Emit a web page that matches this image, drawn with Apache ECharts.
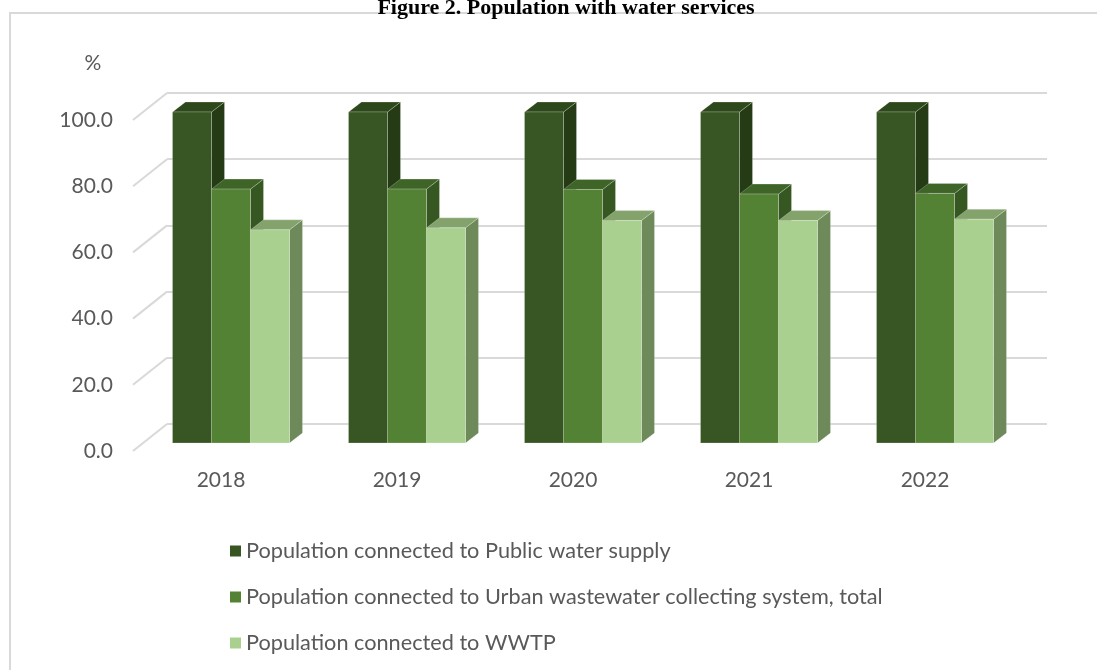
<!DOCTYPE html>
<html>
<head>
<meta charset="utf-8">
<script src="https://cdn.jsdelivr.net/npm/echarts@6/dist/echarts.min.js"></script>
<style>
  html, body { margin: 0; padding: 0; background: #ffffff; }
  #chart { width: 1097px; height: 670px; }
</style>
</head>
<body>
<div id="chart"></div>
<script>
// Population with water services, % of total population
const years = ['2018', '2019', '2020', '2021', '2022'];
const publicWaterSupply = [100.0, 100.0, 100.0, 100.0, 100.0];
const urbanWastewater = [76.7, 76.7, 76.6, 75.2, 75.4];
const wwtp = [64.4, 65.0, 67.2, 67.2, 67.6];
const yTickValues = [0, 20, 40, 60, 80, 100];

const seriesNames = [
  'Population connected to Public water supply',
  'Population connected to Urban wastewater collecting system, total',
  'Population connected to WWTP'
];

// Face shades for each bar series: front, top, side
const shades = [
  { front: '#375623', top: '#2d491c', side: '#243b16' },
  { front: '#548235', top: '#3f6428', side: '#365722' },
  { front: '#a9d08e', top: '#84a36c', side: '#6e8a5b' }
];

// Oblique projection: front edge of floor -> back wall, and bar slab depth
const WALL_DX = 34, WALL_DY = -27;
const BAR_FRONT_DX = 10, BAR_FRONT_DY = -8;
const BAR_DEPTH_DX = 13, BAR_DEPTH_DY = -10;
const BAR_FRAC = 39 / 176;
const TEXT = '#595959';
const FONT = 'Lato';

function barRenderer(idx) {
  const c = shades[idx];
  return function (params, api) {
    const cat = api.value(0);
    const v = api.value(1);
    const base = api.coord([cat, 0]);
    const top = api.coord([cat, v]);
    const catW = api.size([1, 0])[0];
    const barW = catW * BAR_FRAC;
    const x0 = base[0] - 1.5 * barW + idx * barW + BAR_FRONT_DX;
    const x1 = x0 + barW;
    const yb = base[1] + BAR_FRONT_DY;
    const yt = top[1] + BAR_FRONT_DY;
    const dx = BAR_DEPTH_DX, dy = BAR_DEPTH_DY;
    const edge = 'rgba(255,255,255,0.22)';
    return {
      type: 'group',
      children: [
        {
          type: 'polygon',
          shape: { points: [[x1, yt], [x1 + dx, yt + dy], [x1 + dx, yb + dy], [x1, yb]] },
          style: { fill: c.side, stroke: edge, lineWidth: 1 }
        },
        {
          type: 'polygon',
          shape: { points: [[x0, yt], [x1, yt], [x1 + dx, yt + dy], [x0 + dx, yt + dy]] },
          style: { fill: c.top, stroke: edge, lineWidth: 1 }
        },
        {
          type: 'rect',
          shape: { x: x0, y: yt, width: barW, height: yb - yt },
          style: { fill: c.front, stroke: edge, lineWidth: 1 }
        }
      ]
    };
  };
}

function sideWallRenderer(params, api) {
  const v = api.value(0);
  const p = api.coord([0, v]);
  const x = params.coordSys.x;
  return {
    type: 'line',
    shape: { x1: x, y1: p[1], x2: x + WALL_DX, y2: p[1] + WALL_DY },
    style: { stroke: '#d9d9d9', lineWidth: 2 }
  };
}

const valueSeries = [publicWaterSupply, urbanWastewater, wwtp];

const chart = echarts.init(document.getElementById('chart'), null, { renderer: 'canvas' });

chart.setOption({
  animation: false,
  backgroundColor: '#ffffff',
  graphic: [
    {
      type: 'rect',
      shape: { x: 10, y: 13, width: 1100, height: 700 },
      style: { fill: 'none', stroke: '#d9d9d9', lineWidth: 2 },
      z: 0
    },
    {
      type: 'text',
      x: 566,
      y: -3,
      style: {
        text: 'Figure 2. Population with water services',
        font: 'bold 22px "Liberation Serif"',
        fill: '#000000',
        align: 'center',
        verticalAlign: 'top'
      },
      z: 10
    },
    {
      type: 'text',
      x: 93,
      y: 63,
      style: {
        text: '%',
        font: '21px ' + FONT,
        fill: TEXT,
        align: 'center',
        verticalAlign: 'middle'
      }
    }
  ],
  legend: {
    data: seriesNames,
    orient: 'vertical',
    left: 230,
    top: 540,
    padding: 0,
    itemWidth: 11,
    itemHeight: 11,
    itemGap: 24,
    icon: 'rect',
    textStyle: { fontFamily: FONT, fontSize: 21.7, color: TEXT, lineHeight: 22 }
  },
  grid: [
    // front edge of the floor
    { left: 133, right: 84, top: 120, bottom: 219 },
    // back wall
    { left: 167, right: 50, top: 93, bottom: 246 }
  ],
  xAxis: [
    {
      gridIndex: 0,
      type: 'category',
      data: years,
      axisLine: { show: false },
      axisTick: { show: false },
      axisLabel: { color: TEXT, fontFamily: FONT, fontSize: 21, margin: 19 }
    },
    {
      gridIndex: 1,
      type: 'category',
      data: years,
      show: false
    }
  ],
  yAxis: [
    {
      gridIndex: 0,
      type: 'value',
      min: 0,
      max: 100,
      interval: 20,
      axisLine: { show: false },
      axisTick: { show: false },
      splitLine: { show: false },
      axisLabel: {
        color: TEXT,
        fontFamily: FONT,
        fontSize: 21,
        margin: 20,
        formatter: v => v.toFixed(1)
      }
    },
    {
      gridIndex: 1,
      type: 'value',
      min: 0,
      max: 100,
      interval: 20,
      axisLine: { show: false },
      axisTick: { show: false },
      axisLabel: { show: false },
      splitLine: { show: true, lineStyle: { color: '#d9d9d9', width: 2 } }
    }
  ],
  series: [
    {
      name: 'side wall',
      type: 'custom',
      xAxisIndex: 0,
      yAxisIndex: 0,
      renderItem: sideWallRenderer,
      data: yTickValues.map(v => [v]),
      encode: { y: 0 },
      silent: true,
      z: 1
    }
  ].concat(valueSeries.map((vals, i) => ({
    name: seriesNames[i],
    type: 'custom',
    xAxisIndex: 0,
    yAxisIndex: 0,
    itemStyle: { color: shades[i].front },
    renderItem: barRenderer(i),
    data: vals.map((v, k) => [k, v]),
    encode: { x: 0, y: 1 },
    z: 2 + i
  })))
});
</script>
</body>
</html>
